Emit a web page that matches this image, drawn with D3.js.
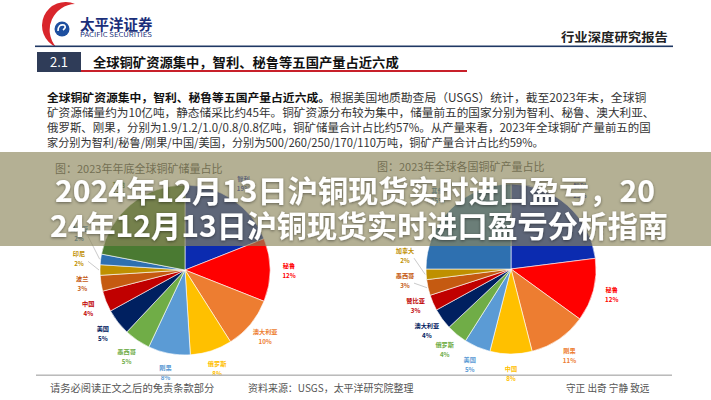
<!DOCTYPE html>
<html>
<head>
<meta charset="utf-8">
<script src="https://cdn.jsdelivr.net/npm/d3@7"></script>
<style>
  body { margin: 0; background: #fff; }
  svg { display: block; font-family: "Noto Sans CJK SC", "Noto Sans", sans-serif; }
</style>
</head>
<body>
<div id="chart"></div>
<script>
// values
const reserveNames = ["智利", "秘鲁", "澳大利亚", "俄罗斯", "刚果", "墨西哥", "美国", "中国", "波兰", "印尼", "赞比亚", "其他"];
const reserveShares = [19, 12, 10, 8, 8, 5, 5, 4, 3, 2, 2, 22];
const outputNames = ["智利", "秘鲁", "刚果", "中国", "美国", "俄罗斯", "澳大利亚", "赞比亚", "墨西哥", "加拿大", "其他"];
const outputShares = [23, 12, 11, 8, 5, 4, 4, 3, 3, 2, 25];
const sliceColors = ["#0b2bb0", "#ff0000", "#ed7d31", "#ffc000", "#5b9bd5", "#70ad47",
  "#002060", "#c00000", "#c55a11", "#bf9000", "#2e70b0", "#4a7a32"];

const paragraphLines = [
  ["全球铜矿资源集中，智利、秘鲁等五国产量占近六成。", "根据美国地质勘查局（USGS）统计，截至2023年末，全球铜"],
  ["", "矿资源储量约为10亿吨，静态储采比约45年。铜矿资源分布较为集中，储量前五的国家分别为智利、秘鲁、澳大利亚、"],
  ["", "俄罗斯、刚果，分别为1.9/1.2/1.0/0.8/0.8亿吨，铜矿储量合计占比约57%。从产量来看，2023年全球铜矿产量前五的国"],
  ["", "家分别为智利/秘鲁/刚果/中国/美国，分别为500/260/250/170/110万吨，铜矿产量合计占比约59%。"]
];
const lineWidths = [600, 608, 604, 497];
const bannerLines = ["2024年12月13日沪铜现货实时进口盈亏，20", "24年12月13日沪铜现货实时进口盈亏分析指南"];

const width = 711;
const height = 400;

const svg = d3.select("#chart")
  .append("svg")
  .attr("width", width)
  .attr("height", height);

// stretch a text element to a given width
function fit(sel, x0, w) {
  const bw = sel.node().getBBox().width;
  sel.attr("transform", `translate(${x0},0) scale(${w / bw},1) translate(${-x0},0)`);
}

// ---- header ----
const header = svg.append("g");
header.append("path")
  .attr("d", "M75,4 A23,23 0 0,0 56,47 A26,26 0 0,1 75,4 Z")
  .attr("fill", "#d9262c");
header.append("circle").attr("cx", 62).attr("cy", 29).attr("r", 7.5).attr("fill", "#1d4f9f");
header.append("path")
  .attr("d", "M58,31 Q58,24 64,25 Q67,27 63,30")
  .attr("fill", "none").attr("stroke", "#fff").attr("stroke-width", 1.6);

const brand = header.append("text")
  .attr("x", 80).attr("y", 30)
  .attr("font-size", 14.5).attr("font-weight", 700)
  .attr("fill", "#1b2f7a")
  .text("太平洋证券");
fit(brand, 80, 73);
const brandEn = header.append("text")
  .attr("x", 80).attr("y", 37)
  .attr("font-size", 5.5)
  .attr("fill", "#1b2f7a")
  .text("PACIFIC SECURITIES");
fit(brandEn, 80, 73);

const reportType = header.append("text")
  .attr("x", 561).attr("y", 42)
  .attr("font-size", 12.5).attr("font-weight", 700)
  .attr("fill", "#222")
  .text("行业深度研究报告");
fit(reportType, 561, 107);

header.append("rect").attr("x", 35).attr("y", 45.5).attr("width", 638).attr("height", 1.6).attr("fill", "#1f3864");

// section heading
header.append("rect").attr("x", 37).attr("y", 52).attr("width", 44).attr("height", 20).attr("fill", "#2f3c58");
header.append("text")
  .attr("x", 59).attr("y", 67)
  .attr("text-anchor", "middle")
  .attr("font-size", 13).attr("fill", "#fff")
  .text("2.1");
const heading = header.append("text")
  .attr("x", 93).attr("y", 67)
  .attr("font-size", 13).attr("font-weight", 700)
  .attr("fill", "#111")
  .text("全球铜矿资源集中，智利、秘鲁等五国产量占近六成");
fit(heading, 93, 306);
header.append("rect").attr("x", 81).attr("y", 70).attr("width", 386).attr("height", 2).attr("fill", "#c8202a");

// ---- paragraph ----
const para = svg.append("g");
paragraphLines.forEach((parts, i) => {
  const t = para.append("text")
    .attr("x", 47).attr("y", 102 + i * 15)
    .attr("font-size", 11.5)
    .attr("fill", "#333");
  if (parts[0]) t.append("tspan").attr("font-weight", 700).attr("fill", "#111").text(parts[0]);
  t.append("tspan").text(parts[1]);
  fit(t, 47, lineWidths[i]);
});

// ---- chart titles ----
svg.append("text").attr("x", 55).attr("y", 173).attr("font-size", 11).attr("fill", "#444")
  .text("图：2023年年底全球铜矿储量占比");
svg.append("text").attr("x", 377).attr("y", 171).attr("font-size", 11).attr("fill", "#444")
  .text("图：2023年全球各国铜矿产量占比");

// ---- pies ----
const radius = 85;
const labelR = 104;

function drawPie(names, shares, cx, cy) {
  const g = svg.append("g");
  const pie = d3.pie().sort(null).value((d) => d);
  const arcs = pie(shares);
  const arc = d3.arc().innerRadius(0).outerRadius(radius);

  g.selectAll("path.slice")
    .data(arcs)
    .join("path")
    .attr("class", "slice")
    .attr("transform", `translate(${cx},${cy})`)
    .attr("d", arc)
    .attr("fill", (d, i) => sliceColors[i])
    .attr("stroke", "#fff")
    .attr("stroke-width", 0.6);

  // label positions outside the pie
  const labels = arcs.map((d, i) => {
    const a = (d.startAngle + d.endAngle) / 2;
    return { i, a, x: cx + labelR * Math.sin(a), y: cy - labelR * Math.cos(a), moved: false };
  });

  // push crowded labels on the left side upward
  let prevY = null;
  labels
    .filter((l) => l.a > (225 * Math.PI) / 180 && l.a < (290 * Math.PI) / 180)
    .sort((p, q) => p.a - q.a)
    .forEach((l) => {
      if (prevY !== null && l.y > prevY - 25) {
        const ny = prevY - 25;
        if (l.y - ny > 6) {
          l.moved = true;
          l.x = Math.min(l.x, cx - labelR - 2);
        }
        l.y = ny;
      }
      prevY = l.y;
    });

  labels.filter((l) => l.moved).forEach((l) => {
    g.append("line")
      .attr("x1", l.x + 9).attr("y1", l.y + 3)
      .attr("x2", cx + (radius + 1) * Math.sin(l.a))
      .attr("y2", cy - (radius + 1) * Math.cos(l.a))
      .attr("stroke", "#a6a6a6")
      .attr("stroke-width", 0.6);
  });

  const lab = g.selectAll("g.lab")
    .data(labels)
    .join("g")
    .attr("class", "lab")
    .attr("transform", (l) => `translate(${l.x},${l.y})`)
    .attr("text-anchor", "middle")
    .attr("font-size", 6.2)
    .attr("font-weight", 700)
    .attr("fill", (l) => sliceColors[l.i]);
  lab.append("text").attr("y", -2.5).text((l) => names[l.i]);
  lab.append("text").attr("y", 7.5).text((l) => shares[l.i] + "%");
}

drawPie(reserveNames, reserveShares, 185, 270);
drawPie(outputNames, outputShares, 511, 269);

// ---- overlay banner ----
const defs = svg.append("defs");
const shadow = defs.append("filter").attr("id", "shadow").attr("x", "-10%").attr("y", "-30%").attr("width", "120%").attr("height", "160%");
shadow.append("feDropShadow")
  .attr("dx", 0).attr("dy", 1)
  .attr("stdDeviation", 1.5)
  .attr("flood-color", "#000")
  .attr("flood-opacity", 0.45);

svg.append("rect")
  .attr("x", 0).attr("y", 152)
  .attr("width", width).attr("height", 94)
  .attr("fill", "rgb(140,133,90)")
  .attr("opacity", 0.65);

const bannerPos = [[355, 202, 600], [359, 237, 618]];
bannerLines.forEach((s, i) => {
  svg.append("text")
    .attr("x", bannerPos[i][0]).attr("y", bannerPos[i][1])
    .attr("text-anchor", "middle")
    .attr("font-size", 30).attr("font-weight", 700)
    .attr("fill", "#fff")
    .attr("filter", "url(#shadow)")
    .attr("textLength", bannerPos[i][2])
    .attr("lengthAdjust", "spacingAndGlyphs")
    .text(s);
});

// ---- footer ----
svg.append("rect").attr("x", 36).attr("y", 374.5).attr("width", 636).attr("height", 1.4).attr("fill", "#b4b4b4");
const foot = [
  ["请务必阅读正文之后的免责条款部分", 50, 165],
  ["资料来源：USGS，太平洋研究院整理", 248, 166],
  ["守正 出奇 宁静 致远", 566, 84]
];
foot.forEach(([s, x, w]) => {
  const t = svg.append("text")
    .attr("x", x).attr("y", 392)
    .attr("font-size", 10.5)
    .attr("fill", "#555")
    .text(s);
  fit(t, x, w);
});
</script>
</body>
</html>
